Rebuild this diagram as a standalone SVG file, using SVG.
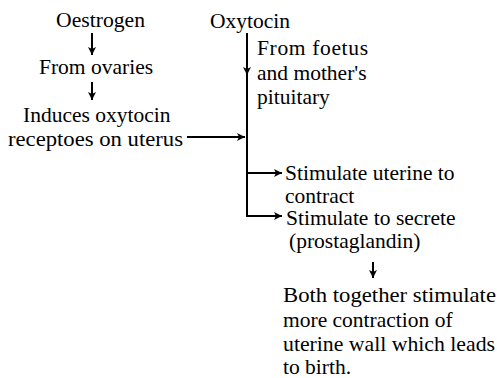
<svg xmlns="http://www.w3.org/2000/svg" width="497" height="378" viewBox="0 0 497 378">
<style>
.c{stroke:#000;stroke-width:2;fill:none}
text{font-family:'Liberation Serif','Times New Roman',serif;font-size:21.5px;fill:#000}
</style>
<defs>
<marker id="ah" markerUnits="userSpaceOnUse" markerWidth="10" markerHeight="10" refX="8" refY="4" orient="auto">
<path d="M0,0 L8,4 L0,8 L2,4 Z" fill="#000"/>
</marker>
</defs>
<rect width="497" height="378" fill="#fff"/>
<g id="oestrogen"><text x="56" y="27" textLength="89" lengthAdjust="spacingAndGlyphs">Oestrogen</text></g>
<g id="ovaries"><text x="39" y="74">From ovaries</text></g>
<g id="induces"><text x="23" y="122">Induces oxytocin</text><text x="8" y="146" textLength="175" lengthAdjust="spacingAndGlyphs">receptoes on uterus</text></g>
<g id="oxytocin"><text x="210" y="28">Oxytocin</text></g>
<g id="foetus"><text x="257" y="55" textLength="111" lengthAdjust="spacing">From foetus</text><text x="257" y="80">and mother's</text><text x="257" y="104">pituitary</text></g>
<g id="contract"><text x="285" y="180">Stimulate uterine to</text><text x="285" y="203">contract</text></g>
<g id="secrete"><text x="286" y="225">Stimulate to secrete</text><text x="289" y="248">(prostaglandin)</text></g>
<g id="birth"><text x="283" y="302" textLength="213" lengthAdjust="spacingAndGlyphs">Both together stimulate</text><text x="283" y="327">more contraction of</text><text x="283" y="351" textLength="212" lengthAdjust="spacingAndGlyphs">uterine wall which leads</text><text x="283" y="374">to birth.</text></g>
<g id="connectors">
<path class="c" d="M92,33 L92,55" marker-end="url(#ah)"/>
<path class="c" d="M92,82 L92,100" marker-end="url(#ah)"/>
<path class="c" d="M247,33 L247,75" marker-end="url(#ah)"/>
<path class="c" d="M247,70 L247,216 L282,216" marker-end="url(#ah)"/>
<path class="c" d="M187,137 L245,137" marker-end="url(#ah)"/>
<path class="c" d="M247,173 L282,173" marker-end="url(#ah)"/>
<path class="c" d="M373,262 L373,278" marker-end="url(#ah)"/>
</g>
</svg>
